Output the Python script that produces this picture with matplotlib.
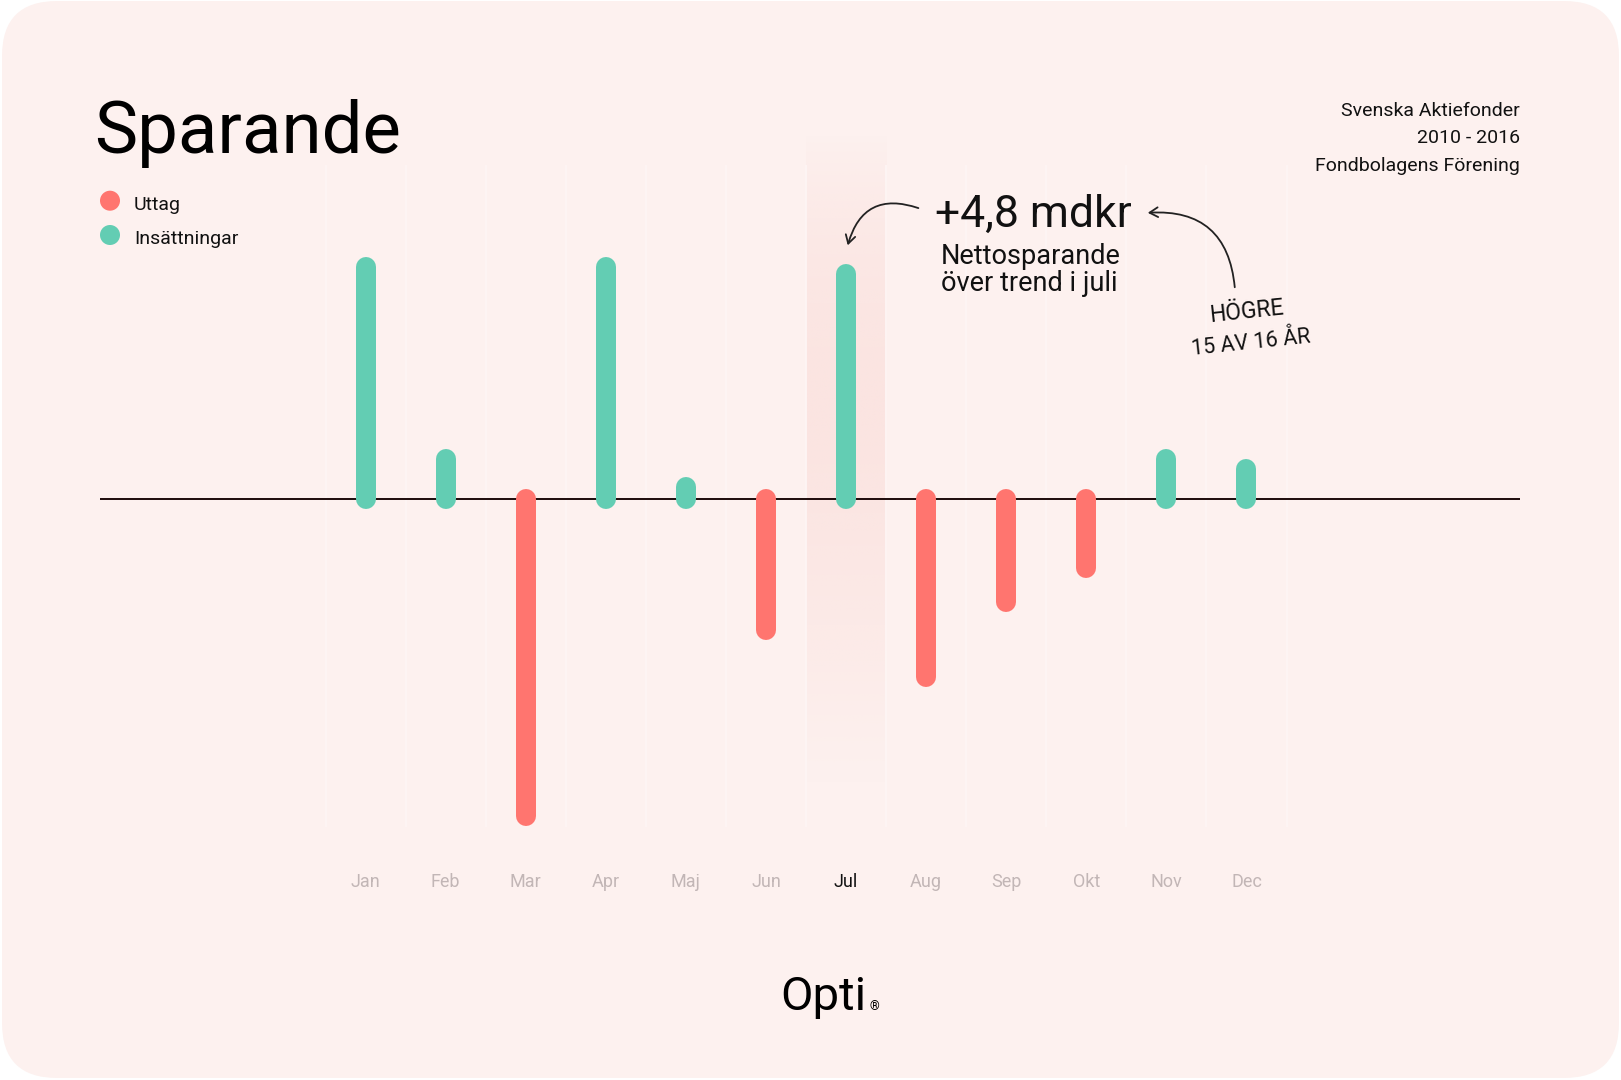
import numpy as np
import matplotlib.pyplot as plt
from matplotlib.patches import FancyBboxPatch, FancyArrowPatch, Circle

# netto savings vs trend per month, mdkr
months = ["Jan", "Feb", "Mar", "Apr", "Maj", "Jun", "Jul", "Aug", "Sep", "Okt", "Nov", "Dec"]
values = [4.95, 0.85, -6.76, 4.93, 0.26, -2.81, 4.80, -3.80, -2.20, -1.47, 0.85, 0.64]
legend_labels = ["Uttag", "Insättningar"]
source_lines = ["Svenska Aktiefonder", "2010 - 2016", "Fondbolagens Förening"]

W, H = 1621, 1080
GREEN = "#63cdb3"
RED = "#ff756f"
CARD = "#fdf1ef"
FONT = ["Roboto", "DejaVu Sans"]

plt.rcParams["font.family"] = FONT

fig = plt.figure(figsize=(W / 100, H / 100), dpi=100, facecolor="white")

# background axes in pixel units (y down)
bg = fig.add_axes([0, 0, 1, 1], zorder=0)
bg.set_xlim(0, W)
bg.set_ylim(H, 0)
bg.axis("off")
bg.add_patch(FancyBboxPatch((2, 1), W - 4, H - 3, boxstyle="round,pad=0,rounding_size=55",
                            fc=CARD, ec="none"))

# chart axes: zero at y=498.7px, 46.9 px per mdkr, months 80.08 px apart
x0_px, step = 365.6, 80.08
zero_px, unit = 498.7, 46.9
left_px, right_px = 100, 1520
top_px, bot_px = 130, 880
ax = fig.add_axes([left_px / W, 1 - bot_px / H, (right_px - left_px) / W, (bot_px - top_px) / H],
                  zorder=1)
ax.set_xlim((left_px - x0_px) / step, (right_px - x0_px) / step)
ax.set_ylim(-(bot_px - zero_px) / unit, (zero_px - top_px) / unit)
ax.axis("off")
ax.patch.set_alpha(0)

# foreground axes for text and arrows, pixel units again
fg = fig.add_axes([0, 0, 1, 1], zorder=2)
fg.set_xlim(0, W)
fg.set_ylim(H, 0)
fg.axis("off")
fg.patch.set_alpha(0)

x = np.arange(len(months))

# highlighted July column with soft vertical fade
t = np.linspace(0, 1, 200)
alpha = 0.6 * np.sin(np.pi * t ** 1.3) ** 0.8
grad = np.zeros((200, 1, 4))
grad[..., 0] = 0xfa / 255
grad[..., 1] = 0xdc / 255
grad[..., 2] = 0xd8 / 255
grad[:, 0, 3] = alpha
jul = months.index("Jul")
ax.imshow(grad, extent=(jul - 0.5, jul + 0.5, -(786 - zero_px) / unit, (zero_px - 134) / unit),
          aspect="auto", origin="lower", zorder=0, interpolation="bilinear")

# faint column separators
ax.vlines(np.arange(-0.5, len(months)), -(827 - zero_px) / unit, (zero_px - 165) / unit,
          color="#fef5f4", lw=1.3, zorder=1)

ax.axhline(0, color="#1c0a0a", lw=1.4, zorder=2)

colors = [GREEN if v > 0 else RED for v in values]
bars = ax.vlines(x, 0, values, colors=colors, lw=14.4, zorder=3)
bars.set_capstyle("round")

# month labels
trans = ax.get_xaxis_transform()
for i, m in enumerate(months):
    ax.text(i, (bot_px - 887) / (bot_px - top_px), m, transform=trans, ha="center", va="baseline",
            fontsize=13, color="#111111" if m == "Jul" else "#c2b6b6")

# title
fg.text(94, 153, "Sparande", fontsize=52.3, color="black", va="baseline", ha="left")

# legend
for k, (lab, c) in enumerate(zip(legend_labels, [RED, GREEN])):
    cy = 200.7 + 34.3 * k
    fg.add_patch(Circle((110, cy), 10, color=c, ec="none"))
    fg.text(134, cy + 9.5, lab, fontsize=14, va="baseline", ha="left", color="#111111")

# source
for k, line in enumerate(source_lines):
    fg.text(1520, 115.7 + 27.5 * k, line, fontsize=14, va="baseline", ha="right", color="#111111")

# annotation
fg.text(935, 226.5, "+4,8 mdkr", fontsize=32, va="baseline", ha="left", color="#111111")
fg.text(941, 264, "Nettosparande", fontsize=19.5, va="baseline", ha="left", color="#111111")
fg.text(941, 291, "över trend i juli", fontsize=19.5, va="baseline", ha="left", color="#111111")

fg.add_patch(FancyArrowPatch((921, 209), (847, 248), connectionstyle="arc3,rad=0.55",
                             arrowstyle="->,head_length=6,head_width=3.5", color="#222222", lw=1.3))
fg.add_patch(FancyArrowPatch((1235, 290), (1145, 213), connectionstyle="arc3,rad=0.5",
                             arrowstyle="->,head_length=6,head_width=3.5", color="#222222", lw=1.3))

fg.text(1247, 312, "HÖGRE", fontsize=16.5, rotation=6, ha="center", va="center",
        color="#111111", rotation_mode="anchor")
fg.text(1251, 343, "15 AV 16 ÅR", fontsize=15.5, rotation=6, ha="center", va="center",
        color="#111111", rotation_mode="anchor")

# logo
fg.text(780, 1010, "Opti", fontsize=34, va="baseline", ha="left", color="black")
fg.text(869, 1010, "®", fontsize=9, va="baseline", ha="left", color="black")

fig.savefig("out.png", dpi=100, facecolor="white")
